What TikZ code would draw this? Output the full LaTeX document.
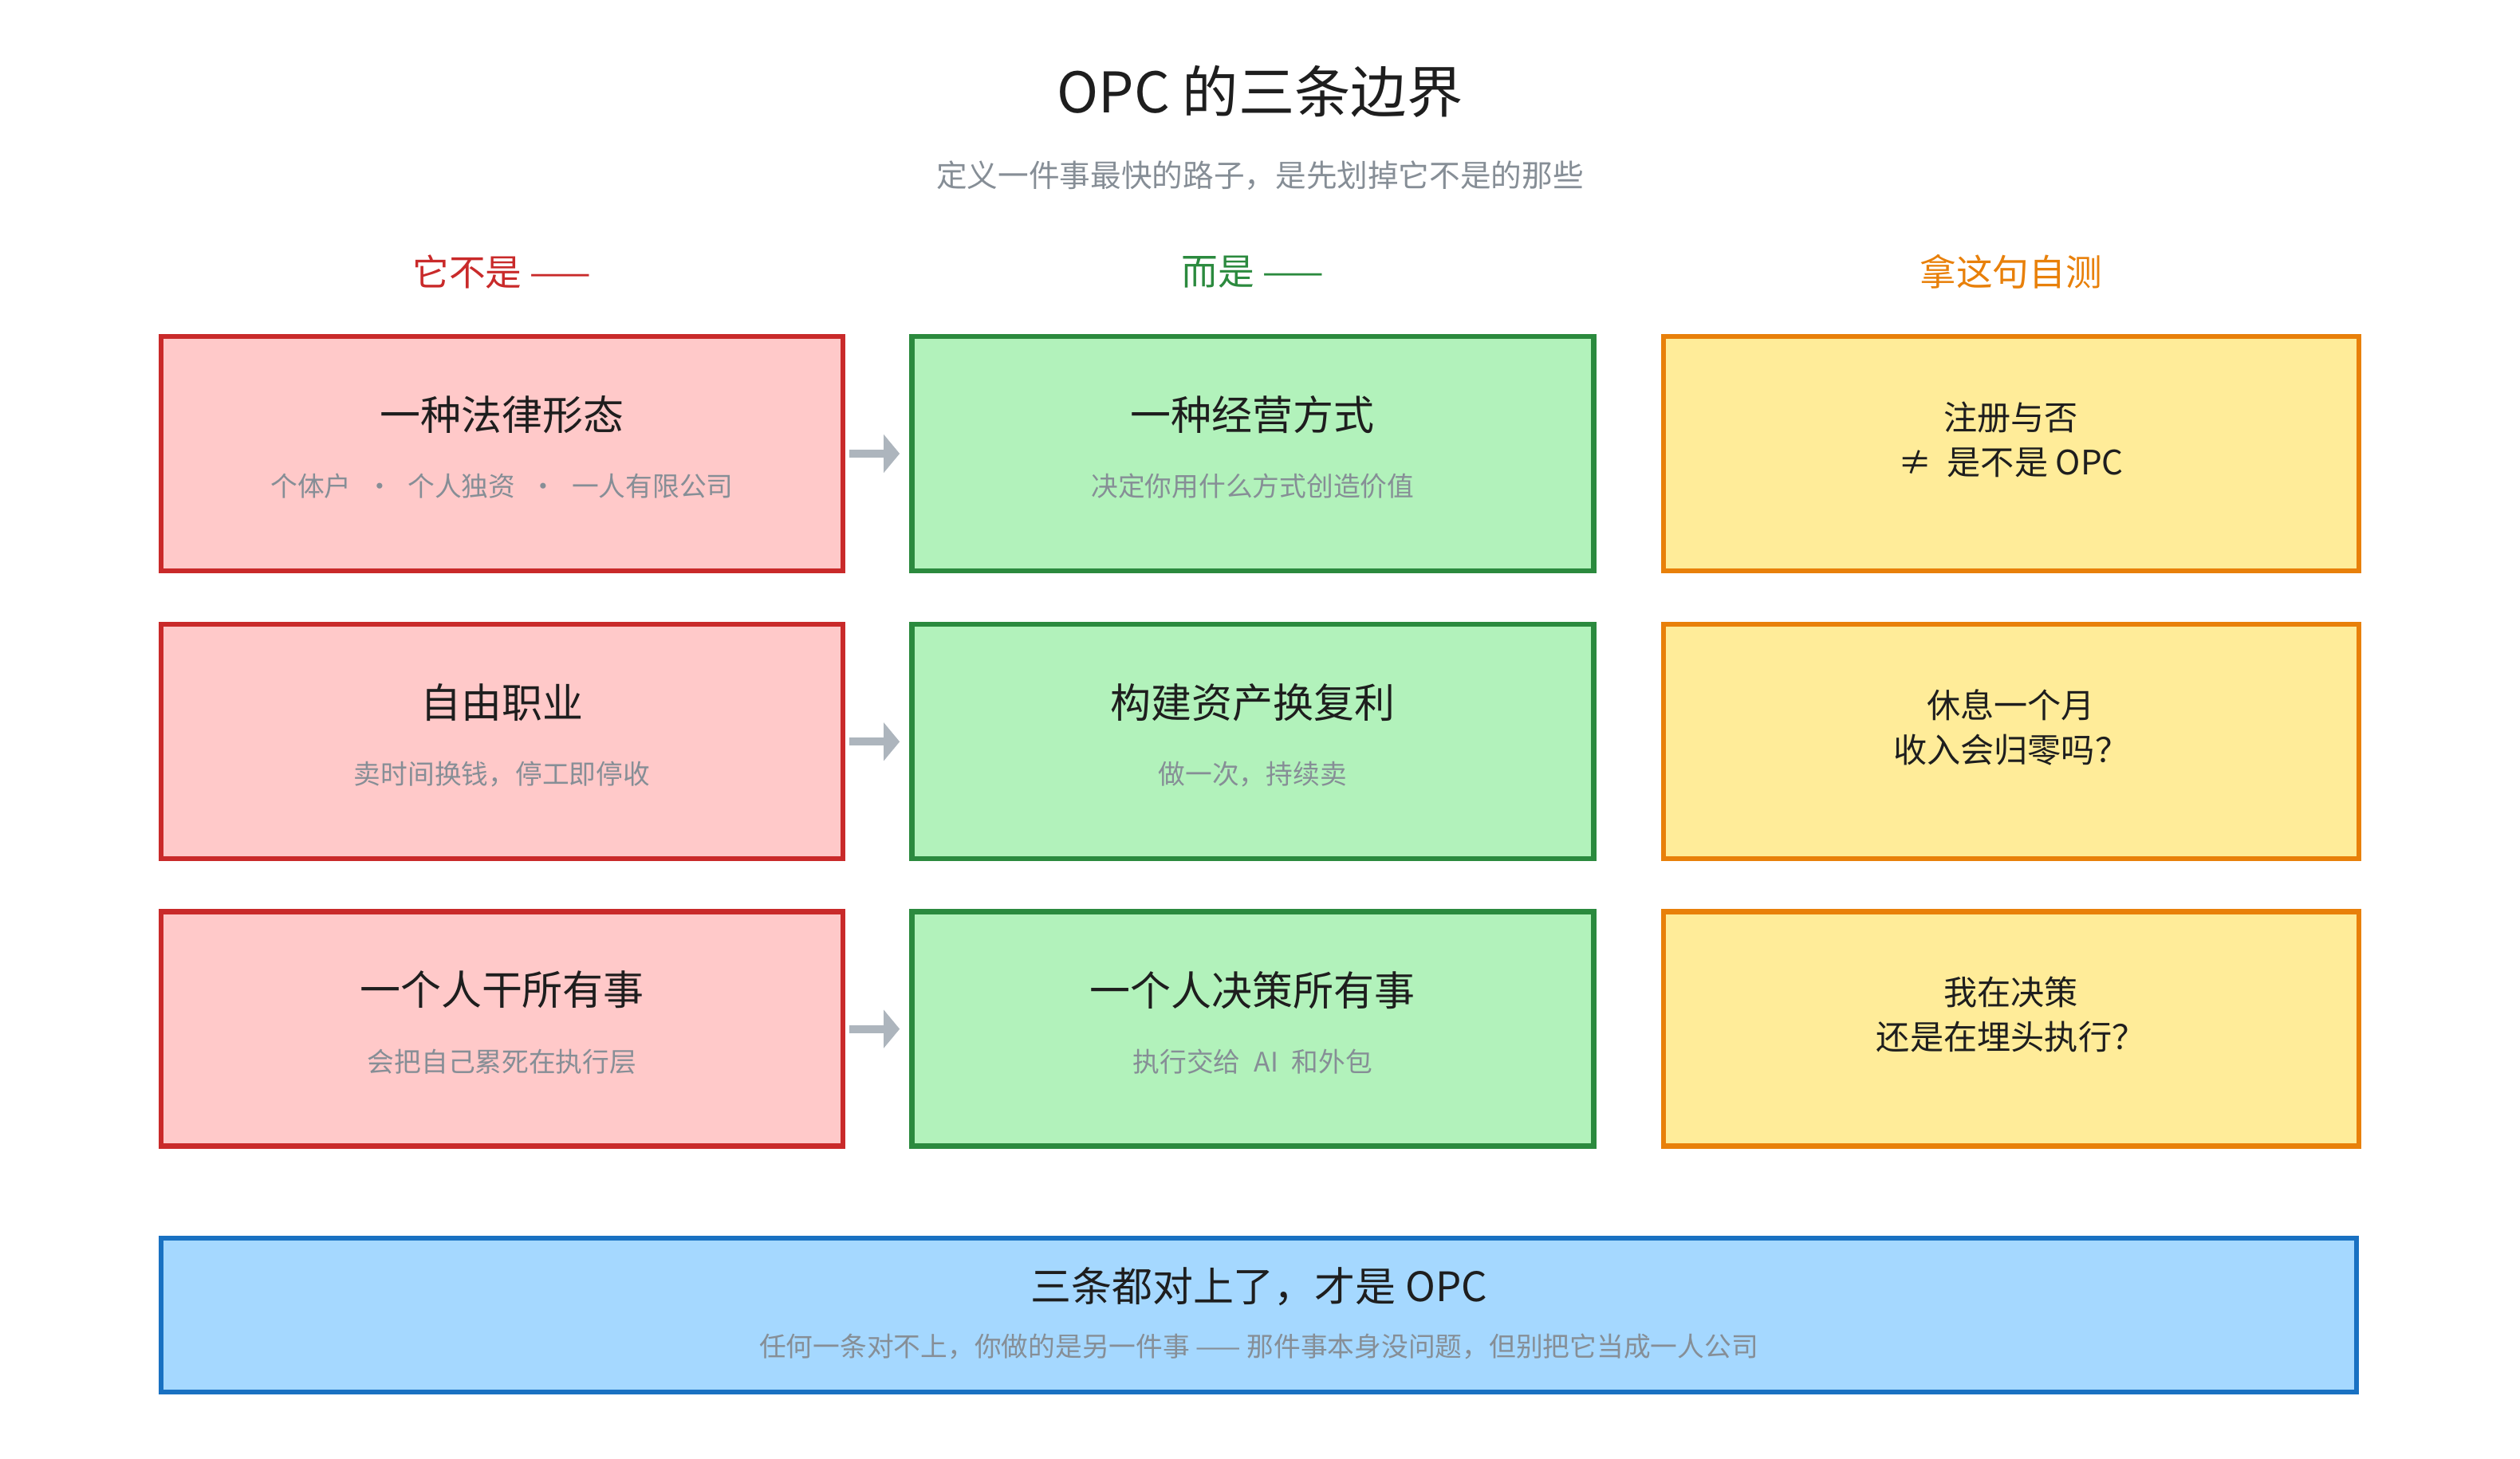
\documentclass[tikz,border=0pt]{standalone}
\usepackage{fontspec}
\setmainfont{Noto Sans CJK SC}
\usetikzlibrary{arrows.meta,positioning}

\definecolor{ink}{HTML}{1E1E1E}
\definecolor{muted}{HTML}{868E96}
\definecolor{arrowgray}{HTML}{ADB5BD}
\definecolor{notred}{HTML}{C92A2A}
\definecolor{notfill}{HTML}{FFC9C9}
\definecolor{isgreen}{HTML}{2B8A3E}
\definecolor{isfill}{HTML}{B2F2BB}
\definecolor{testorange}{HTML}{E8800A}
\definecolor{testfill}{HTML}{FFEC99}
\definecolor{sumblue}{HTML}{1971C2}
\definecolor{sumfill}{HTML}{A5D8FF}

\begin{document}
\begin{tikzpicture}[
    box/.style={draw, line width=1.8pt, minimum width=8.55cm, minimum height=2.94cm, inner sep=0pt},
    notbox/.style={box, draw=notred, fill=notfill},
    isbox/.style={box, draw=isgreen, fill=isfill},
    testbox/.style={box, draw=testorange, fill=testfill, minimum width=8.72cm},
    sumbox/.style={box, draw=sumblue, fill=sumfill, minimum width=27.53cm, minimum height=1.93cm},
    head/.style={font=\fontsize{13}{15}\selectfont},
    ttl/.style={font=\fontsize{14.5}{17}\selectfont, text=ink},
    sub/.style={font=\fontsize{9.6}{12}\selectfont, text=muted},
    ask/.style={font=\fontsize{12}{15.9}\selectfont, text=ink, align=center},
    flow/.style={-{Triangle[length=0.2cm,width=0.47cm]}, line width=0.1cm, draw=arrowgray,
                 shorten <=0.05cm, shorten >=0.12cm},
  ]
  \useasboundingbox (0,0) rectangle (31.6,18.3);

  % title
  \node[font=\fontsize{20}{24}\selectfont, text=ink] (title) at (15.8,17.15) {OPC 的三条边界};
  \node[font=\fontsize{11}{13}\selectfont, text=muted] (subtitle) at (15.8,16.10)
    {定义一件事最快的路子，是先划掉它不是的那些};

  % boxes
  \node[notbox] (n1) at (6.295,12.61) {};
  \node[notbox] (n2) [below=0.61cm of n1] {};
  \node[notbox] (n3) [below=0.6cm of n2] {};
  \node[isbox] (i1) [right=0.8cm of n1] {};
  \node[isbox] (i2) [right=0.8cm of n2] {};
  \node[isbox] (i3) [right=0.8cm of n3] {};
  \node[testbox] (t1) [right=0.81cm of i1] {};
  \node[testbox] (t2) [right=0.81cm of i2] {};
  \node[testbox] (t3) [right=0.81cm of i3] {};
  \node[sumbox] (sum) at (15.785,1.805) {};

  % column heads
  \coordinate (headrow) at (0,14.89);
  \node[head, text=notred] (hnot) at (n1 |- headrow) {它不是 ——};
  \node[head, text=isgreen] (his) at (i1 |- headrow) {而是 ——};
  \node[head, text=testorange] (htest) at (t1 |- headrow) {拿这句自测};

  % what it is not
  \node[ttl] (n1t) at ([yshift=0.49cm]n1.center) {一种法律形态};
  \node[sub] (n1s) at ([yshift=-0.41cm]n1.center)
    {个体户\hspace{0.55em}•\hspace{0.55em}个人独资\hspace{0.55em}•\hspace{0.55em}一人有限公司};
  \node[ttl] (n2t) at ([yshift=0.49cm]n2.center) {自由职业};
  \node[sub] (n2s) at ([yshift=-0.41cm]n2.center) {卖时间换钱，停工即停收};
  \node[ttl] (n3t) at ([yshift=0.49cm]n3.center) {一个人干所有事};
  \node[sub] (n3s) at ([yshift=-0.41cm]n3.center) {会把自己累死在执行层};

  % what it is
  \node[ttl] (i1t) at ([yshift=0.49cm]i1.center) {一种经营方式};
  \node[sub] (i1s) at ([yshift=-0.41cm]i1.center) {决定你用什么方式创造价值};
  \node[ttl] (i2t) at ([yshift=0.49cm]i2.center) {构建资产换复利};
  \node[sub] (i2s) at ([yshift=-0.41cm]i2.center) {做一次，持续卖};
  \node[ttl] (i3t) at ([yshift=0.49cm]i3.center) {一个人决策所有事};
  \node[sub] (i3s) at ([yshift=-0.41cm]i3.center) {执行交给\enspace AI\enspace 和外包};

  % self test
  \node[ask] (t1q) at ([yshift=0.18cm]t1.center) {注册与否\\≠~ 是不是 OPC};
  \node[ask] (t2q) at ([yshift=0.18cm]t2.center) {休息一个月\\收入会归零吗？};
  \node[ask] (t3q) at ([yshift=0.18cm]t3.center) {我在决策\\还是在埋头执行？};

  % summary
  \node[ttl] (sumt) at ([yshift=0.355cm]sum.center) {三条都对上了，才是 OPC};
  \node[sub] (sums) at ([yshift=-0.395cm]sum.center)
    {任何一条对不上，你做的是另一件事 —— 那件事本身没问题，但别把它当成一人公司};

  \draw[flow] (n1) -- (i1);
  \draw[flow] (n2) -- (i2);
  \draw[flow] (n3) -- (i3);
\end{tikzpicture}
\end{document}
